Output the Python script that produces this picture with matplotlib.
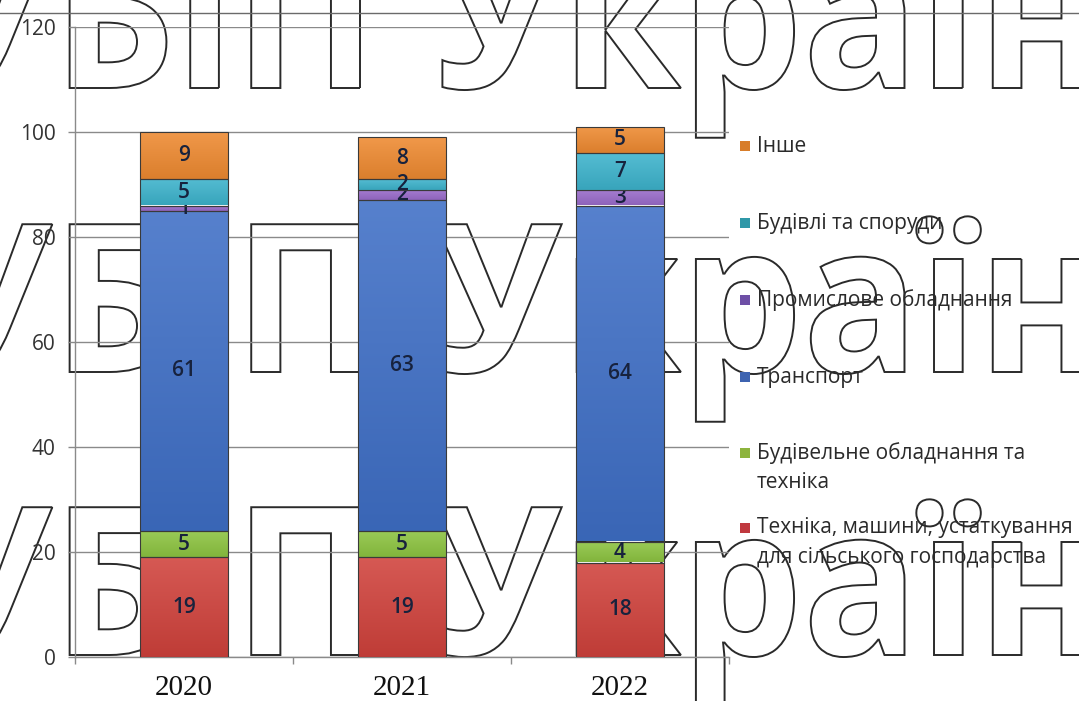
import matplotlib
matplotlib.use("Agg")
import numpy as np
import matplotlib.pyplot as plt
from matplotlib.colors import to_rgb
from matplotlib.patches import Rectangle, PathPatch
from matplotlib.lines import Line2D
from matplotlib.textpath import TextPath
from matplotlib.font_manager import FontProperties
from matplotlib.transforms import Affine2D

# ---- data -------------------------------------------------------------
years = ["2020", "2021", "2022"]

agri_machinery = [19, 19, 18]
construction_equipment = [5, 5, 4]
transport = [61, 63, 64]
industrial_equipment = [1, 2, 3]
buildings = [5, 2, 7]
other = [9, 8, 5]

series_names = [
    "Техніка, машини, устаткування\nдля сільського господарства",
    "Будівельне обладнання та\nтехніка",
    "Транспорт",
    "Промислове обладнання",
    "Будівлі та споруди",
    "Інше",
]
series_values = [agri_machinery, construction_equipment, transport,
                 industrial_equipment, buildings, other]
series_colors = ["#D0423C", "#8DC441", "#3F6FC6", "#9A6CCB", "#3DB3CC", "#EE8A31"]
legend_colors = ["#C0393F", "#8DB43E", "#3D63B0", "#6E4FA6", "#2F98A8", "#D87D2A"]

y_ticks = [0, 20, 40, 60, 80, 100, 120]

# ---- figure -----------------------------------------------------------
W, H = 1079, 701
fig = plt.figure(figsize=(W / 100, H / 100), dpi=100)
fig.patch.set_facecolor("white")


def fx(px):
    return px / W


def fy(py):
    return 1 - py / H


# watermark: outlined lettering repeated in three rows (pixel units)
px_to_fig = Affine2D().scale(1 / W, 1 / H) + fig.transFigure
wm_font = FontProperties(family="Open Sans", weight="bold")
wm_size, wm_sx = 207, 0.93


def outline_word(word, x_px, base_px, align):
    path = TextPath((0, 0), word, size=wm_size, prop=wm_font)
    ext = path.get_extents()
    if align == "right":
        x_px -= ext.x1 * wm_sx
    else:
        x_px -= ext.x0 * wm_sx
    tr = Affine2D().scale(wm_sx, 1).translate(x_px, H - base_px) + px_to_fig
    fig.add_artist(PathPatch(path, transform=tr, facecolor="none",
                             edgecolor="#2a2a2a", lw=1.4, zorder=-5))


for base in (88, 372, 655):
    outline_word("НУБіП", 360, base, "right")
    outline_word("України", 436, base, "left")

fig.add_artist(Line2D([0, 1], [fy(13), fy(13)], color="#6a6a6a", lw=1.0,
                      transform=fig.transFigure, zorder=-4))

ax = fig.add_axes([75 / W, 1 - 657 / H, 654 / W, 630 / H])
ax.set_facecolor("none")


def shade(col, amount):
    c = np.array(to_rgb(col))
    if amount >= 0:
        return c + (1 - c) * amount
    return c * (1 + amount)


x = list(range(len(years)))
bottoms = [0] * len(years)
bar_width = 0.40
label_font = dict(family="Open Sans", fontsize=15, color="#17223d", weight="semibold")
for i, (vals, col) in enumerate(zip(series_values, series_colors)):
    z = 3.5 if i >= 4 else 2.5
    bars = ax.bar(x, vals, bar_width, bottom=bottoms, color=col,
                  edgecolor="#3a3a3a", linewidth=0.8, zorder=z)
    # soft vertical shading inside each segment
    grad = np.linspace(0, 1, 32)[:, None]
    top_c, bot_c = shade(col, 0.12), shade(col, -0.08)
    img = (top_c[None, None, :] * (1 - grad[..., None]) +
           bot_c[None, None, :] * grad[..., None])
    for rect in bars:
        x0, y0 = rect.get_x(), rect.get_y()
        w, h = rect.get_width(), rect.get_height()
        im = ax.imshow(img, extent=[x0, x0 + w, y0, y0 + h], origin="upper",
                       aspect="auto", interpolation="bilinear", zorder=z + 0.01)
        im.set_clip_path(rect)
        rect.set_facecolor("none")
        rect.set_zorder(z + 0.02)
    for xi, v, b in zip(x, vals, bottoms):
        tz = 3.2 if i == 3 else 4
        ax.text(xi, b + v / 2, f"{v}", ha="center", va="center", zorder=tz, **label_font)
    bottoms = [b + v for b, v in zip(bottoms, vals)]

ax.set_xlim(-0.5, len(years) - 0.5)
ax.set_ylim(0, 120)
ax.set_yticks(y_ticks)
ax.set_yticklabels([str(t) for t in y_ticks], family="Open Sans", fontsize=15,
                   color="#333333")
ax.yaxis.grid(True, color="#8a8a8a", linewidth=1.0, zorder=0)
ax.set_axisbelow(True)
ax.tick_params(axis="y", length=5, width=1, color="#8a8a8a", pad=9)

ax.set_xticks(x)
ax.set_xticklabels(years, family="Liberation Serif", fontsize=21, color="#111111")
ax.tick_params(axis="x", length=0, pad=13)
ax.set_xticks([-0.5, 0.5, 1.5, 2.5], minor=True)
ax.tick_params(axis="x", which="minor", length=5, width=1, color="#8a8a8a")

for side in ("top", "right"):
    ax.spines[side].set_visible(False)
for side in ("left", "bottom"):
    ax.spines[side].set_color("#8a8a8a")
    ax.spines[side].set_linewidth(1.0)

# legend drawn on the right, top entry first
legend_rows = [146, 223, 300, 377, 453, 528]
legend_font = dict(family="Open Sans", fontsize=15, color="#2a2a2a", zorder=5)
for row_y, name, col in zip(legend_rows, series_names[::-1], legend_colors[::-1]):
    fig.add_artist(Rectangle((fx(740), fy(row_y + 5)), 10 / W, 10 / H,
                             transform=fig.transFigure, facecolor=col,
                             edgecolor="none", zorder=5))
    for k, line in enumerate(name.split("\n")):
        fig.text(fx(757), fy(row_y + 30 * k), line, ha="left", va="center",
                 **legend_font)

fig.savefig("out.png", dpi=100, facecolor="white")
